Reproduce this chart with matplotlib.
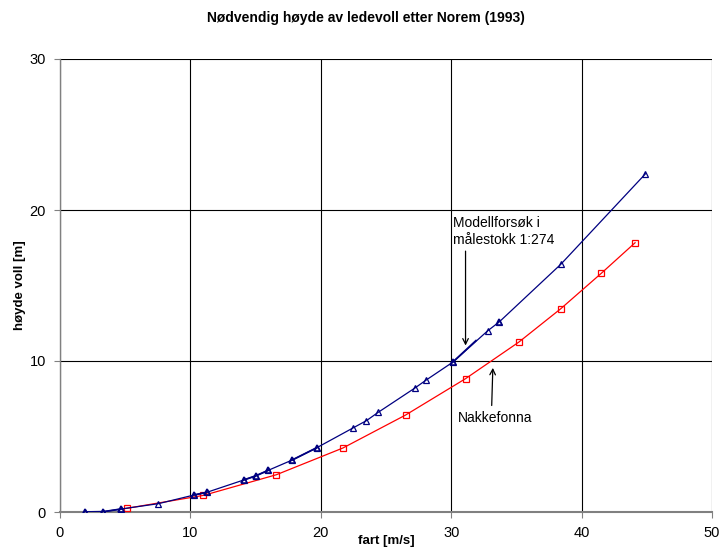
import matplotlib
matplotlib.use("Agg")
import matplotlib.pyplot as plt
import numpy as np

plt.rcParams['font.family'] = ['Liberation Sans', 'DejaVu Sans']

# Modellforsøk (blue triangles)
model_x = [1.94, 3.32, 4.70, 7.54, 10.30, 11.25, 14.09, 15.03, 15.97, 17.80, 19.70,
           22.50, 23.50, 24.40, 27.20, 28.10, 30.10, 32.80, 33.70, 38.40, 44.90]
model_y = [0.00, 0.02, 0.20, 0.55, 1.13, 1.30, 2.12, 2.40, 2.76, 3.44, 4.26,
           5.58, 6.05, 6.60, 8.20, 8.75, 9.91, 12.00, 12.60, 16.40, 22.40]

# Overlapping model runs (drawn on top, separate runs)
model2_x = [1.94, 3.32, 4.70, np.nan, 10.30, 11.25, np.nan, 14.09, 15.03, 15.97, np.nan,
            17.80, 19.70, np.nan, 30.10, 31.90, np.nan, 33.70]
model2_y = [0.00, 0.02, 0.20, np.nan, 1.13, 1.30, np.nan, 2.12, 2.40, 2.76, np.nan,
            3.44, 4.26, np.nan, 9.91, 11.35, np.nan, 12.60]

# Nakkefonna (red squares)
nakke_x = [5.10, 11.00, 16.60, 21.70, 26.50, 31.10, 35.20, 38.40, 41.50, 44.10]
nakke_y = [0.24, 1.10, 2.47, 4.24, 6.42, 8.83, 11.26, 13.46, 15.80, 17.83]

x_ticks = [0, 10, 20, 30, 40, 50]
y_ticks = [0, 10, 20, 30]

fig = plt.figure(figsize=(7.2, 5.48), dpi=100)
ax = fig.add_axes([60/720, 1-512/548, 652/720, 453/548])

ax.plot(nakke_x, nakke_y, color='#FF0000', lw=0.9, marker='s', ms=4.5,
        mfc='none', mec='#FF0000', mew=0.9, zorder=3)
ax.plot(model_x, model_y, color='#000080', lw=0.9, marker='^', ms=5,
        mfc='none', mec='#000080', mew=0.9, zorder=4)
ax.plot(model2_x, model2_y, color='#000080', lw=1.3, marker='^', ms=5,
        mfc='none', mec='#000080', mew=1.1, zorder=4, markevery=[0, 1, 2, 4, 5, 7, 8, 9, 11, 12, 14, 17])

ax.set_xlim(0, 50)
ax.set_ylim(0, 30)
ax.set_xticks(x_ticks)
ax.set_yticks(y_ticks)
ax.grid(True, color='black', lw=0.8)
ax.set_axisbelow(True)
for s in ['top', 'right']:
    ax.spines[s].set_visible(False)
ax.spines['left'].set_color('#808080')
ax.spines['bottom'].set_color('#808080')
ax.spines['bottom'].set_linewidth(1.5)
ax.spines['left'].set_linewidth(1.0)
ax.tick_params(axis='both', labelsize=10.5, length=4, color='#808080', pad=6)

ax.set_xlabel('fart [m/s]', fontsize=9.5, fontweight='bold')
ax.set_ylabel('høyde voll [m]', fontsize=9.5, fontweight='bold')
ax.xaxis.set_label_coords(386/720*0 + (386-60)/652, (512-541)/453)
ax.yaxis.set_label_coords((20-60)/652, 0.5)
ax.xaxis.label.set_va('center')
ax.yaxis.label.set_va('center')
fig.text(366/720, 1-18/548, 'Nødvendig høyde av ledevoll etter Norem (1993)',
         ha='center', va='center', fontsize=10, fontweight='bold')

ax.annotate('', xy=(31.1, 10.84), xytext=(31.1, 17.46),
            arrowprops=dict(arrowstyle='->', color='black', lw=0.9))
ax.text(30.1, 18.6, 'Modellforsøk i\nmålestokk 1:274', fontsize=10,
        ha='left', va='center', linespacing=1.25)
ax.annotate('', xy=(33.2, 9.73), xytext=(33.1, 6.87),
            arrowprops=dict(arrowstyle='->', color='black', lw=0.9))
ax.text(30.5, 6.2, 'Nakkefonna', fontsize=10, ha='left', va='center')

fig.savefig('out.png', dpi=100)
